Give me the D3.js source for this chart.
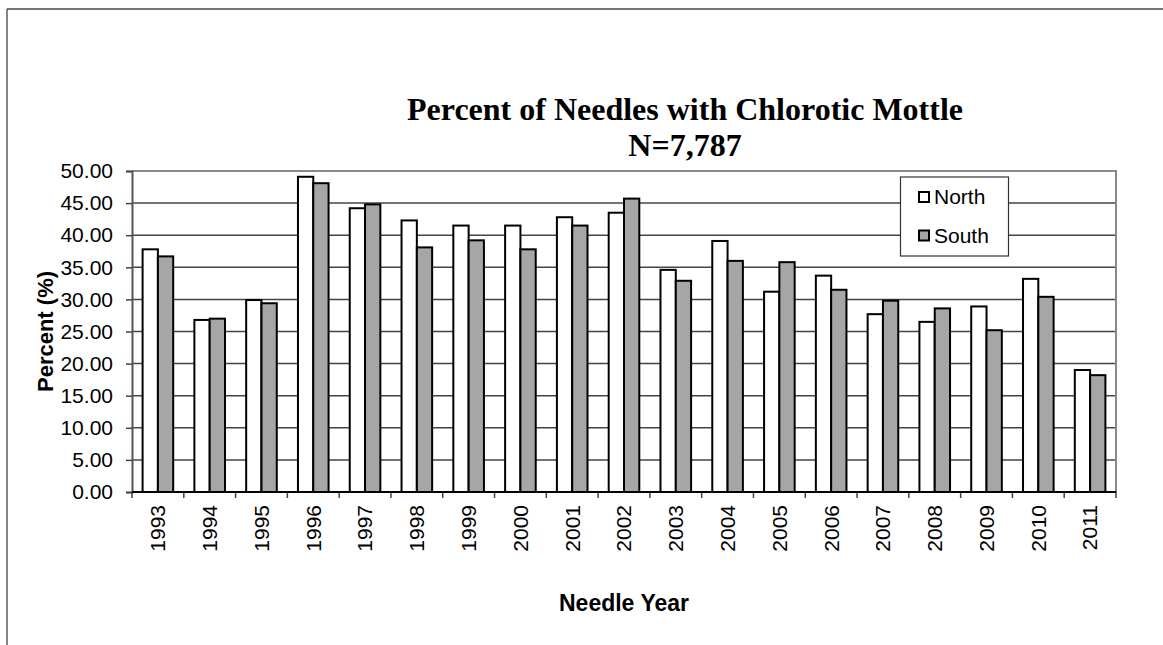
<!DOCTYPE html>
<html>
<head>
<meta charset="utf-8">
<script src="https://cdn.jsdelivr.net/npm/d3@7"></script>
<style>
  html, body { margin: 0; padding: 0; background: #fff; }
  svg { display: block; }
</style>
</head>
<body>
<svg id="chart" width="1163" height="645"></svg>
<script>
// Needle years and percentages of needles with chlorotic mottle
const years = ["1993","1994","1995","1996","1997","1998","1999","2000","2001","2002",
               "2003","2004","2005","2006","2007","2008","2009","2010","2011"];
const north = [37.8, 26.8, 29.9, 49.1, 44.2, 42.3, 41.5, 41.5, 42.8, 43.5,
               34.6, 39.1, 31.2, 33.7, 27.7, 26.5, 28.9, 33.2, 19.0];
const south = [36.7, 27.0, 29.4, 48.1, 44.8, 38.1, 39.2, 37.8, 41.5, 45.7,
               32.9, 36.0, 35.8, 31.5, 29.8, 28.6, 25.2, 30.4, 18.2];
const seriesNames = ["North", "South"];
const seriesColors = ["#ffffff", "#a6a6a6"];
const yTicks = [0, 5, 10, 15, 20, 25, 30, 35, 40, 45, 50];

const svg = d3.select("#chart");
const sans = "Arial, 'Liberation Sans', sans-serif";
const serif = "'Times New Roman', 'Liberation Serif', serif";

// Outer chart frame
svg.append("line").attr("x1", 7).attr("x2", 1163).attr("y1", 9).attr("y2", 9)
  .attr("stroke", "#777").attr("stroke-width", 2);
svg.append("line").attr("x1", 7).attr("x2", 7).attr("y1", 9).attr("y2", 645)
  .attr("stroke", "#333").attr("stroke-width", 1.2);

const plot = { left: 132, right: 1116, top: 171, bottom: 492 };

const x = d3.scaleBand().domain(years).range([plot.left, plot.right]).paddingInner(0).paddingOuter(0);
const groupW = 30.6;
const xs = d3.scaleBand().domain(seriesNames).range([0, groupW]);
const y = d3.scaleLinear().domain([0, 50]).range([plot.bottom, plot.top]);

// Horizontal gridlines
svg.append("g").selectAll("line")
  .data(yTicks.filter(t => t > 0 && t < 50))
  .join("line")
  .attr("x1", plot.left).attr("x2", plot.right)
  .attr("y1", d => y(d)).attr("y2", d => y(d))
  .attr("stroke", "#444").attr("stroke-width", 1.5);

// Plot area border (top and right)
svg.append("path")
  .attr("d", `M${plot.left},${y(50)}H${plot.right}V${plot.bottom}`)
  .attr("fill", "none").attr("stroke", "#888").attr("stroke-width", 2);

// Bars
const groups = svg.append("g").selectAll("g")
  .data(years)
  .join("g")
  .attr("transform", d => `translate(${x(d) + (x.bandwidth() - groupW) / 2},0)`);

groups.selectAll("rect")
  .data((d, i) => [north[i], south[i]].map((v, k) => ({ v, k })))
  .join("rect")
  .attr("x", d => xs(seriesNames[d.k]))
  .attr("width", xs.bandwidth())
  .attr("y", d => y(d.v))
  .attr("height", d => y(0) - y(d.v))
  .attr("fill", d => seriesColors[d.k])
  .attr("stroke", "#000").attr("stroke-width", 2);

// Y axis
const yAxis = svg.append("g")
  .attr("transform", `translate(${plot.left},0)`)
  .call(d3.axisLeft(y).tickValues(yTicks).tickFormat(d3.format(".2f")).tickSize(6).tickPadding(13));
yAxis.select(".domain").attr("stroke", "#555").attr("stroke-width", 2);
yAxis.selectAll(".tick line").attr("stroke", "#444").attr("stroke-width", 1.5);
yAxis.selectAll("text")
  .attr("font-family", sans)
  .attr("font-size", 21).attr("fill", "#000");

// X axis
const xAxis = svg.append("g")
  .attr("transform", `translate(0,${plot.bottom})`)
  .call(d3.axisBottom(x).tickSize(0).tickPadding(0));
xAxis.select(".domain").remove();
xAxis.selectAll(".tick text")
  .attr("font-family", sans)
  .attr("font-size", 21).attr("fill", "#000")
  .attr("transform", "translate(0,13) rotate(-90)")
  .attr("text-anchor", "end")
  .attr("dy", "0.35em")
  .attr("x", 0).attr("y", 0);

// Category boundary ticks along the x axis
const bounds = years.map(d => x(d)).concat([plot.right]);
svg.append("g").selectAll("line")
  .data(bounds)
  .join("line")
  .attr("x1", d => d).attr("x2", d => d)
  .attr("y1", plot.bottom).attr("y2", plot.bottom + 6)
  .attr("stroke", "#444").attr("stroke-width", 1.5);
svg.append("line")
  .attr("x1", plot.left).attr("x2", plot.right)
  .attr("y1", plot.bottom).attr("y2", plot.bottom)
  .attr("stroke", "#000").attr("stroke-width", 2);

// Titles
svg.append("text")
  .attr("x", 685).attr("y", 120)
  .attr("text-anchor", "middle")
  .attr("font-family", serif)
  .attr("font-weight", "bold").attr("font-size", 32)
  .text("Percent of Needles with Chlorotic Mottle");
svg.append("text")
  .attr("x", 685).attr("y", 156)
  .attr("text-anchor", "middle")
  .attr("font-family", serif)
  .attr("font-weight", "bold").attr("font-size", 32)
  .text("N=7,787");

svg.append("text")
  .attr("transform", `translate(53,${(plot.top + plot.bottom) / 2}) rotate(-90)`)
  .attr("text-anchor", "middle")
  .attr("font-family", sans)
  .attr("font-weight", "bold").attr("font-size", 22)
  .text("Percent (%)");

svg.append("text")
  .attr("x", 624).attr("y", 611)
  .attr("text-anchor", "middle")
  .attr("font-family", sans)
  .attr("font-weight", "bold").attr("font-size", 23)
  .text("Needle Year");

// Legend
const legend = svg.append("g");
legend.append("rect")
  .attr("x", 900.5).attr("y", 177).attr("width", 108).attr("height", 79)
  .attr("fill", "#fff").attr("stroke", "#333").attr("stroke-width", 1.2);
const items = legend.selectAll("g.item")
  .data(seriesNames)
  .join("g").attr("class", "item")
  .attr("transform", (d, i) => `translate(919,${192 + i * 38.5})`);
items.append("rect")
  .attr("width", 10).attr("height", 10)
  .attr("fill", (d, i) => seriesColors[i])
  .attr("stroke", "#000").attr("stroke-width", 2);
items.append("text")
  .attr("x", 15).attr("y", 12)
  .attr("font-family", sans)
  .attr("font-size", 21)
  .text(d => d);
</script>
</body>
</html>
